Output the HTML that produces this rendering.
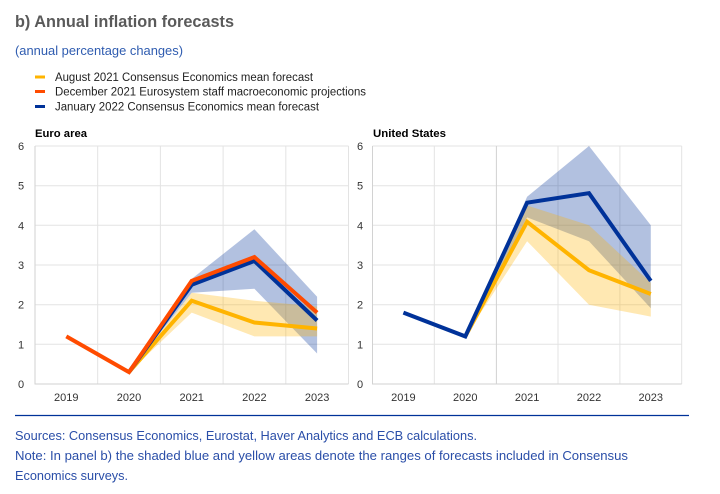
<!DOCTYPE html>
<html><head><meta charset="utf-8"><style>
html,body{margin:0;padding:0;background:#fff;}
svg{display:block;}
text{font-family:"Liberation Sans",Arial,sans-serif;}
</style></head><body>
<svg width="720" height="494" viewBox="0 0 720 494" xmlns="http://www.w3.org/2000/svg">
<rect width="720" height="494" fill="#fff"/>
<text x="15" y="27" font-size="16.5" font-weight="bold" fill="#5a5a5a" textLength="219" lengthAdjust="spacingAndGlyphs">b) Annual inflation forecasts</text>
<text x="15" y="55" font-size="13" fill="#2f5cb0" textLength="168" lengthAdjust="spacingAndGlyphs">(annual percentage changes)</text>

<rect x="35" y="75.5" width="10" height="3" fill="#ffb400"/>
<rect x="35" y="90" width="10" height="3" fill="#ff4b00"/>
<rect x="35" y="105" width="10" height="3" fill="#003299"/>
<text x="55" y="81" font-size="11.5" fill="#222" textLength="258" lengthAdjust="spacingAndGlyphs">August 2021 Consensus Economics mean forecast</text>
<text x="55" y="95.5" font-size="11.5" fill="#222" textLength="311" lengthAdjust="spacingAndGlyphs">December 2021 Eurosystem staff macroeconomic projections</text>
<text x="55" y="110.5" font-size="11.5" fill="#222" textLength="264" lengthAdjust="spacingAndGlyphs">January 2022 Consensus Economics mean forecast</text>

<text x="35" y="137" font-size="11" font-weight="bold" fill="#000" textLength="52" lengthAdjust="spacingAndGlyphs">Euro area</text>
<text x="373" y="137" font-size="11" font-weight="bold" fill="#000" textLength="73" lengthAdjust="spacingAndGlyphs">United States</text>

<g stroke="#e3e3e3" stroke-width="1" fill="none">
<path d="M35 146H348.5M35 185.7H348.5M35 225.3H348.5M35 265H348.5M35 304.7H348.5M35 344.3H348.5"/>
<path d="M97.7 146V384M160.4 146V384M223.1 146V384M285.8 146V384M348.5 146V384"/>
<path d="M372.5 146H681.7M372.5 185.7H681.7M372.5 225.3H681.7M372.5 265H681.7M372.5 304.7H681.7M372.5 344.3H681.7"/>
<path d="M434.3 146V384M558 146V384M619.9 146V384M681.7 146V384"/>
</g>
<g stroke="#d2d2d2" stroke-width="1" fill="none">
<path d="M35 146V384H348.5"/>
<path d="M372.5 146V384H681.7M496.4 146V384"/>
</g>

<g font-size="11" fill="#333" text-anchor="middle">
<text x="21" y="150">6</text><text x="21" y="189.7">5</text><text x="21" y="229.3">4</text><text x="21" y="269">3</text><text x="21" y="308.7">2</text><text x="21" y="348.3">1</text><text x="21" y="388">0</text>
<text x="360" y="150">6</text><text x="360" y="189.7">5</text><text x="360" y="229.3">4</text><text x="360" y="269">3</text><text x="360" y="308.7">2</text><text x="360" y="348.3">1</text><text x="360" y="388">0</text>
<text x="66.3" y="401">2019</text><text x="129" y="401">2020</text><text x="191.7" y="401">2021</text><text x="254.4" y="401">2022</text><text x="317.1" y="401">2023</text>
<text x="403.4" y="401">2019</text><text x="465.3" y="401">2020</text><text x="527.1" y="401">2021</text><text x="589" y="401">2022</text><text x="650.8" y="401">2023</text>
</g>

<polygon points="129,372.1 191.7,278.9 254.4,229.3 317.1,296.7 317.1,353.5 254.4,288.8 191.7,292.8" fill="#003299" fill-opacity="0.3"/>
<polygon points="129,372.1 191.7,292.8 254.4,300.7 317.1,306.5 317.1,336.4 254.4,336.4 191.7,312.6" fill="#ffb400" fill-opacity="0.3"/>
<polygon points="465.3,336.4 527.1,196.8 589,146 650.8,225.3 650.8,308.2 589,241.2 527.1,217.4" fill="#003299" fill-opacity="0.3"/>
<polygon points="465.3,336.4 527.1,205.5 589,225.3 650.8,282.8 650.8,316.6 589,304.7 527.1,241.2" fill="#ffb400" fill-opacity="0.3"/>

<g fill="none" stroke-width="4" stroke-linejoin="miter" stroke-linecap="butt">
<polyline points="129,372.1 191.7,300.7 254.4,322.5 317.1,328.5" stroke="#ffb400"/>
<polyline points="129,372.1 191.7,284.8 254.4,261 317.1,320.5" stroke="#003299"/>
<polyline points="66.3,336.4 129,372.1 191.7,280.9 254.4,257.1 317.1,312.6" stroke="#ff4b00"/>
<polyline points="465.3,336.4 527.1,221.8 589,270.2 650.8,294" stroke="#ffb400"/>
<polyline points="403.4,312.6 465.3,336.4 527.1,202.7 589,193.2 650.8,280.9" stroke="#003299"/>
</g>

<line x1="15" y1="415.5" x2="689" y2="415.5" stroke="#003299" stroke-width="1.3"/>
<g font-size="13" fill="#2a4ea8">
<text x="15" y="440" textLength="462" lengthAdjust="spacingAndGlyphs">Sources: Consensus Economics, Eurostat, Haver Analytics and ECB calculations.</text>
<text x="15" y="460" textLength="613" lengthAdjust="spacingAndGlyphs">Note: In panel b) the shaded blue and yellow areas denote the ranges of forecasts included in Consensus</text>
<text x="15" y="480" textLength="113" lengthAdjust="spacingAndGlyphs">Economics surveys.</text>
</g>
</svg>
</body></html>
